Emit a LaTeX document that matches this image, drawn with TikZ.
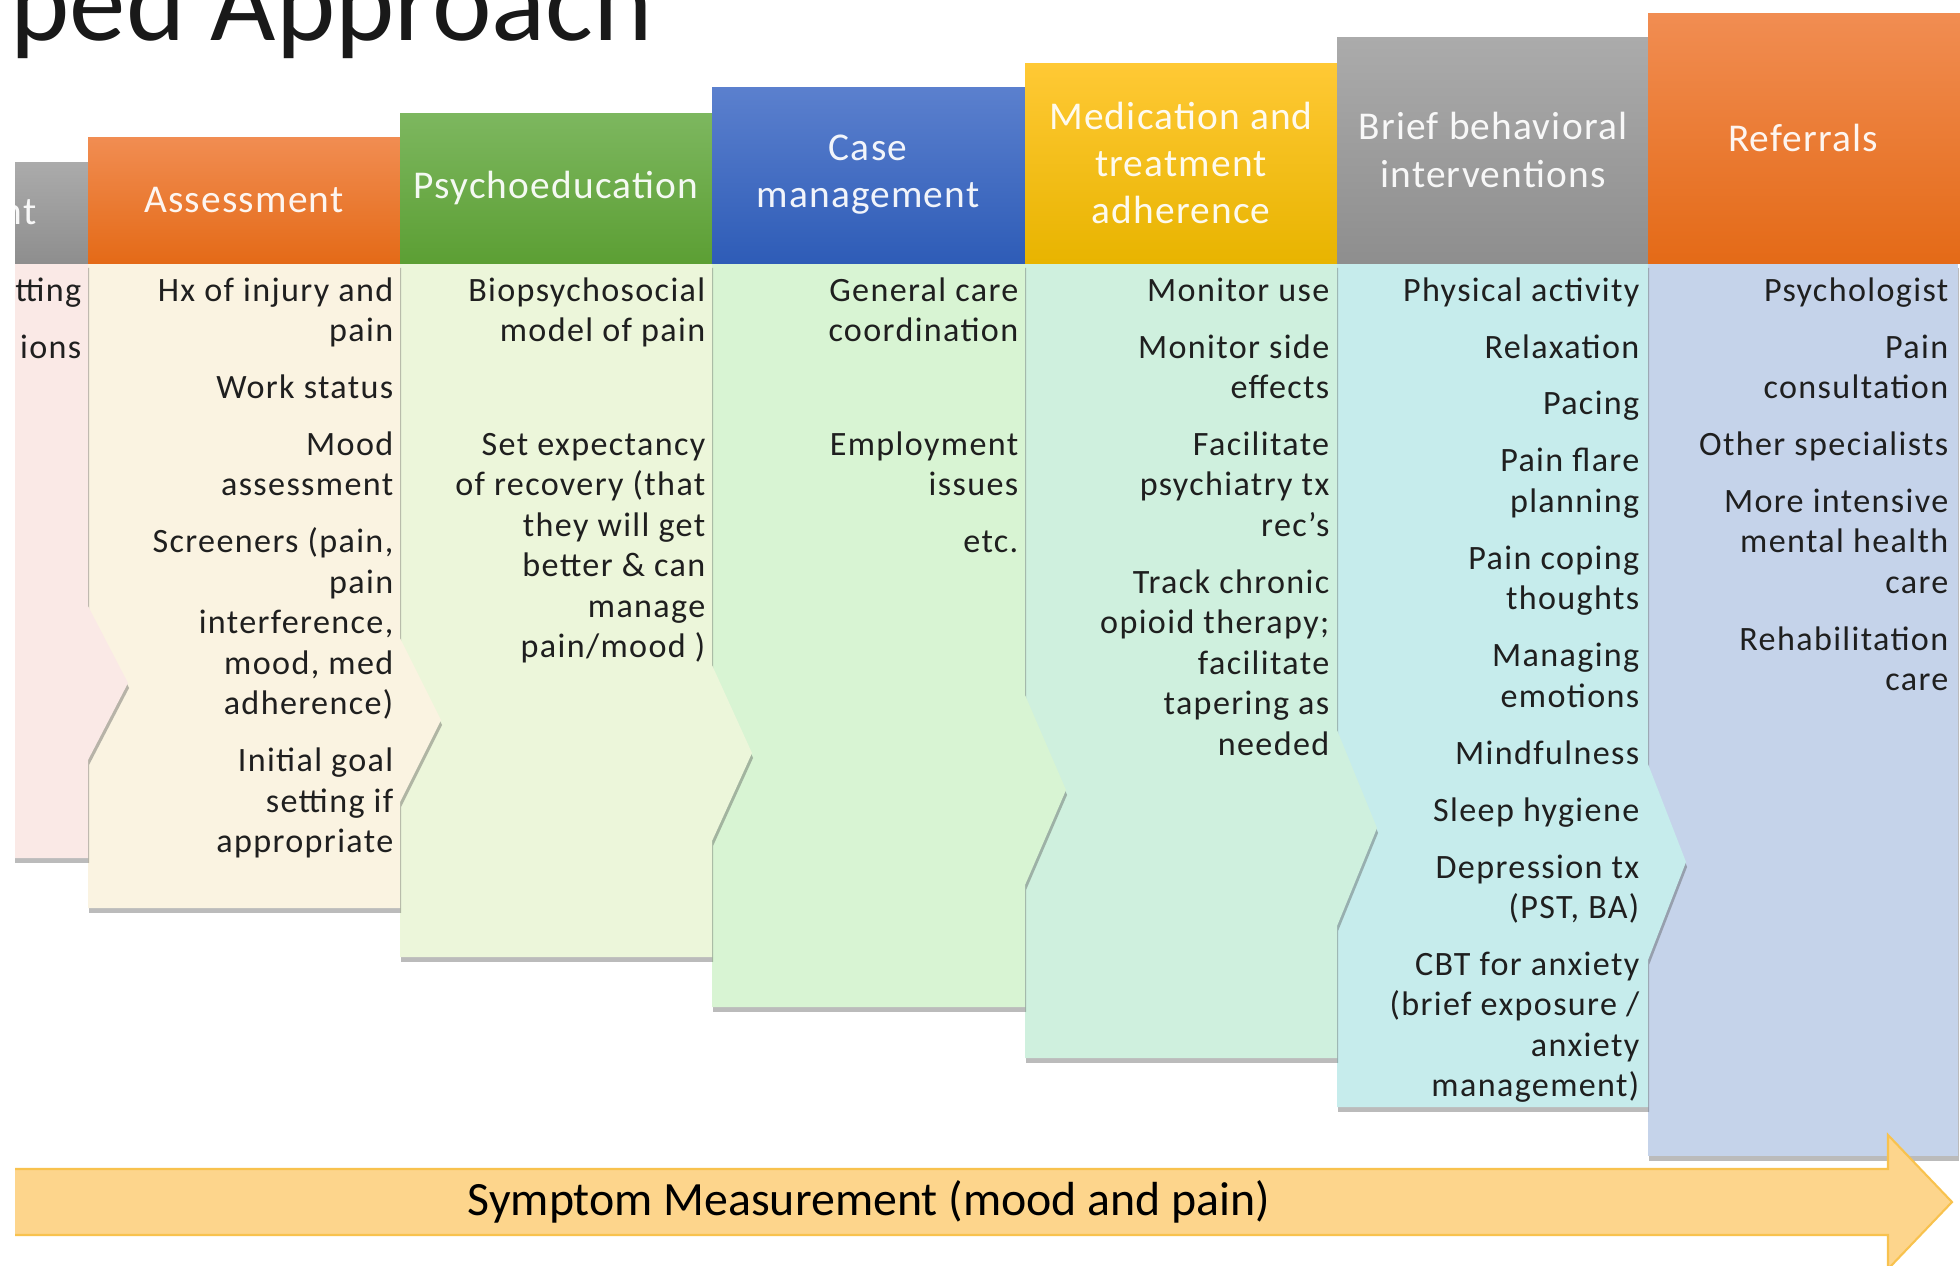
\documentclass[tikz,border=0pt]{standalone}
\usepackage{fontspec}
\setmainfont{Carlito}
\newfontfamily\headfont{Carlito}[LetterSpace=3]
\newfontfamily\listfont{Carlito}[LetterSpace=4]
\usetikzlibrary{calc, shadows}

\definecolor{hdrGrayT}{HTML}{ABABAB}
\definecolor{hdrGrayB}{HTML}{8E8E8E}
\definecolor{hdrOrangeT}{HTML}{F18D52}
\definecolor{hdrOrangeB}{HTML}{E46A17}
\definecolor{hdrGreenT}{HTML}{7DB75F}
\definecolor{hdrGreenB}{HTML}{5C9F34}
\definecolor{hdrBlueT}{HTML}{5B80CE}
\definecolor{hdrBlueB}{HTML}{2E5CB7}
\definecolor{hdrGoldT}{HTML}{FFC935}
\definecolor{hdrGoldB}{HTML}{E8B400}
\definecolor{bodyPink}{HTML}{FAE9E6}
\definecolor{bodyCream}{HTML}{FAF3E1}
\definecolor{bodyLime}{HTML}{ECF6DA}
\definecolor{bodyGreen}{HTML}{D8F4D3}
\definecolor{bodyMint}{HTML}{CFF0DE}
\definecolor{bodyCyan}{HTML}{C6ECEC}
\definecolor{bodyBlue}{HTML}{C5D3EA}
\definecolor{arrowFill}{HTML}{FDD58C}
\definecolor{arrowLine}{HTML}{F8C24E}

\begin{document}
\begin{tikzpicture}[x=0.01cm, y=-0.01cm,
	colshadow/.style={drop shadow={shadow xshift=0.3pt, shadow yshift=-1.4pt, opacity=0.38, fill=black!70}},
	headtext/.style={font=\headfont\fontsize{11.2}{13.4}\selectfont, align=center, text=white, text opacity=0.93, inner sep=0pt},
	listtext/.style={font=\listfont\fontsize{9.7}{11.5}\selectfont, align=right, text=black!88, inner sep=0pt, anchor=north east}]
	\useasboundingbox (0,0) rectangle (1960,1265);
	\clip (15,0) rectangle (1960,1265);

	\coordinate (Hd0) at (37,212);
	\coordinate (Hd1) at (244,200);
	\coordinate (Hd2) at (556,188);
	\coordinate (Hd3) at (868,175);
	\coordinate (Hd4) at (1181,163);
	\coordinate (Hd5) at (1493,150);
	\coordinate (Hd6) at (1803,138);

	\coordinate (Ls0) at (82,272);
	\coordinate (Ls1) at (394,272);
	\coordinate (Ls2) at (706,272);
	\coordinate (Ls3) at (1019,272);
	\coordinate (Ls4) at (1330,272);
	\coordinate (Ls5) at (1640,272);
	\coordinate (Ls6) at (1949,272);

	% bodies, right to left so every point lies over its neighbour
	\fill[bodyBlue, colshadow] (1648,263) rectangle (1958,1156);
	\fill[bodyCyan, colshadow] (1337,263) -- (1648,263) -- (1648,764) -- (1686,862) -- (1648,960) -- (1648,1107) -- (1337,1107) -- cycle;
	\fill[bodyMint, colshadow] (1025,263) -- (1337,263) -- (1337,730) -- (1377,828) -- (1337,926) -- (1337,1058) -- (1025,1058) -- cycle;
	\fill[bodyGreen, colshadow] (712,263) -- (1025,263) -- (1025,695) -- (1066,790) -- (1025,885) -- (1025,1007) -- (712,1007) -- cycle;
	\fill[bodyLime, colshadow] (400,263) -- (712,263) -- (712,665) -- (752,753) -- (712,841) -- (712,957) -- (400,957) -- cycle;
	\fill[bodyCream, colshadow] (88,263) -- (400,263) -- (400,638) -- (441,720) -- (400,802) -- (400,908) -- (88,908) -- cycle;
	\fill[bodyPink, colshadow] (0,263) -- (88,263) -- (88,606) -- (128,683) -- (88,760) -- (88,858) -- (0,858) -- cycle;

	% headers
	\shade[top color=hdrGrayT, bottom color=hdrGrayB] (0,162) rectangle (88,263);
	\shade[top color=hdrOrangeT, bottom color=hdrOrangeB] (88,137) rectangle (400,263);
	\shade[top color=hdrGreenT, bottom color=hdrGreenB] (400,113) rectangle (712,263);
	\shade[top color=hdrBlueT, bottom color=hdrBlueB] (712,87) rectangle (1025,263);
	\shade[top color=hdrGoldT, bottom color=hdrGoldB] (1025,63) rectangle (1337,263);
	\shade[top color=hdrGrayT, bottom color=hdrGrayB] (1337,37) rectangle (1648,263);
	\shade[top color=hdrOrangeT, bottom color=hdrOrangeB] (1648,13) rectangle (1960,263);

	\node[headtext, anchor=east] (engageHd) at (Hd0) {nt};
	\node[headtext] (assessHd) at (Hd1) {Assessment};
	\node[headtext] (psychoHd) at (Hd2) {Psychoeducation};
	\node[headtext] (caseHd) at (Hd3) {Case\\management};
	\node[headtext] (medHd) at (Hd4) {Medication and\\treatment\\adherence};
	\node[headtext] (briefHd) at (Hd5) {Brief behavioral\\interventions};
	\node[headtext] (referHd) at (Hd6) {Referrals};

	\node[listtext] (engageLs) at (Ls0) {\strut tting\\[4.7pt] ions};
	\node[listtext] (assessLs) at (Ls1) {\strut Hx of injury and\\ pain\\[4.7pt] Work status\\[4.7pt] Mood\\ assessment\\[4.7pt]
		Screeners (pain,\\ pain\\ interference,\\ mood, med\\ adherence)\\[4.7pt] Initial goal\\ setting if\\ appropriate};
	\node[listtext] (psychoLs) at (Ls2) {\strut Biopsychosocial\\ model of pain\\[4.7pt] \strut\\[4.7pt] Set expectancy\\ of recovery (that\\
		they will get\\ better \& can\\ manage\\ pain/mood )};
	\node[listtext] (caseLs) at (Ls3) {\strut General care\\ coordination\\[4.7pt] \strut\\[4.7pt] Employment\\ issues\\[4.7pt] etc.};
	\node[listtext] (medLs) at (Ls4) {\strut Monitor use\\[4.7pt] Monitor side\\ effects\\[4.7pt] Facilitate\\ psychiatry tx\\ rec\textquoteright s\\[4.7pt]
		Track chronic\\ opioid therapy;\\ facilitate\\ tapering as\\ needed};
	\node[listtext] (briefLs) at (Ls5) {\strut Physical activity\\[4.7pt] Relaxation\\[4.7pt] Pacing\\[4.7pt] Pain flare\\ planning\\[4.7pt]
		Pain coping\\ thoughts\\[4.7pt] Managing\\ emotions\\[4.7pt] Mindfulness\\[4.7pt] Sleep hygiene\\[4.7pt]
		Depression tx\\ (PST, BA)\\[4.7pt] CBT for anxiety\\ (brief exposure /\\ anxiety\\ management)};
	\node[listtext] (referLs) at (Ls6) {\strut Psychologist\\[4.7pt] Pain\\ consultation\\[4.7pt] Other specialists\\[4.7pt]
		More intensive\\ mental health\\ care\\[4.7pt] Rehabilitation\\ care};

	% measurement arrow along the bottom
	\filldraw[fill=arrowFill, draw=arrowLine, line width=0.6pt] (0,1169) -- (1888,1169) -- (1888,1135) -- (1952,1202)
		-- (1888,1269) -- (1888,1235) -- (0,1235) -- cycle;
	\node[font=\fontsize{13.6}{16}\selectfont, inner sep=0pt] (measure) at (869,1202) {Symptom Measurement (mood and pain)};

	\node[anchor=base west, inner sep=0pt, font=\fontsize{32.1}{36}\selectfont, text=black!90] (title) at (10,40) {ped Approach};
\end{tikzpicture}
\end{document}
